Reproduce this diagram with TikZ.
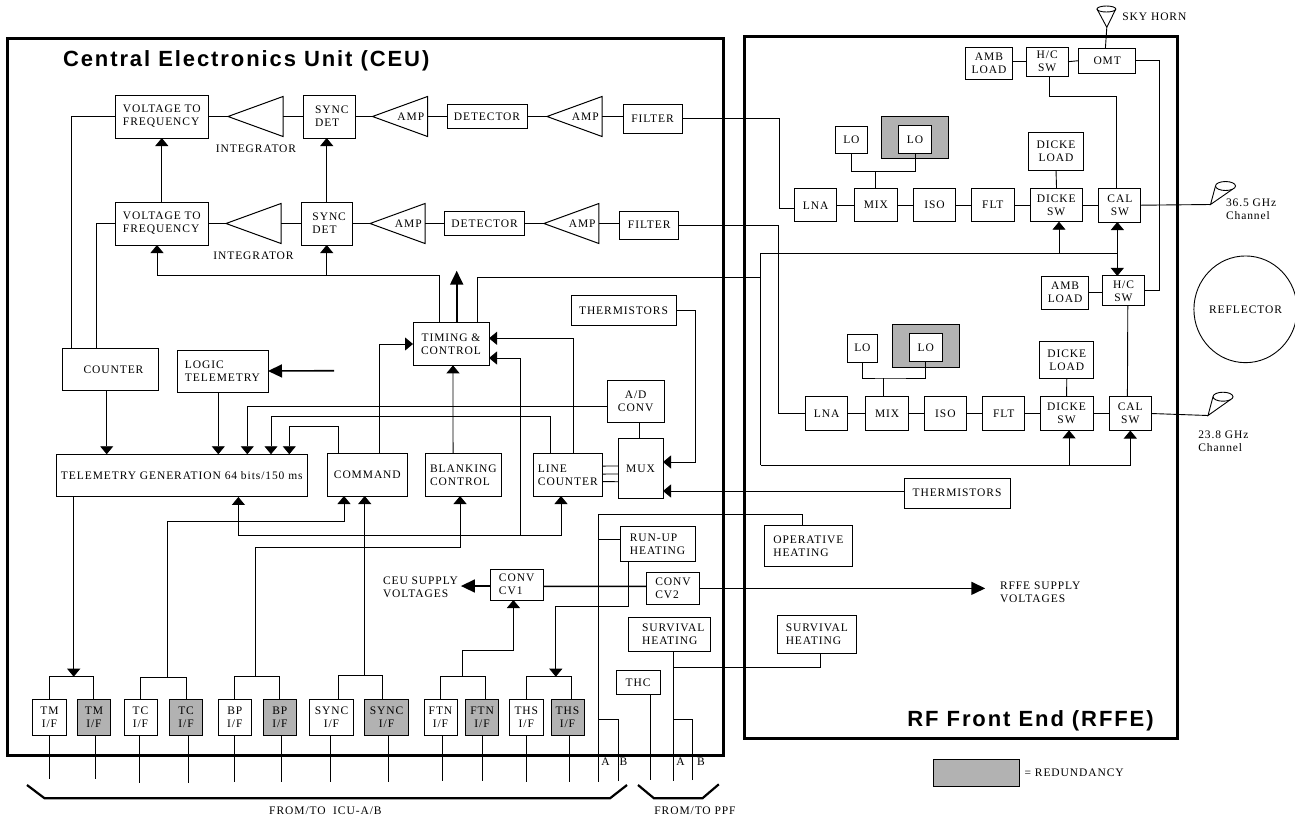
\documentclass[tikz,border=0pt]{standalone}
\usepackage{xcolor}
\usepackage{fontspec}
\setmainfont[LetterSpace=8]{Liberation Serif}
\newfontfamily\headfont[LetterSpace=8.7]{Liberation Sans}
\usepackage{tikz}
\usetikzlibrary{shapes.geometric,arrows.meta,positioning,calc}
\definecolor{redungray}{RGB}{178,178,178}
\tikzset{
  wh/.style 2 args={minimum width=#1pt, minimum height=#2pt},
  block/.style={rectangle, draw=black, line width=1pt, inner sep=0pt, outer sep=0pt, align=center, fill=white, font=\fontsize{11.5}{13}\selectfont},
  lblock/.style={block, align=left},
  redun/.style={block, fill=redungray},
  unitframe/.style={rectangle, draw=black, line width=3pt, inner sep=0pt, outer sep=0pt},
  ampl/.style={isosceles triangle, isosceles triangle stretches, shape border rotate=180, draw=black, line width=1pt, inner sep=0pt, outer sep=0pt, minimum width=40pt, minimum height=55pt, font=\fontsize{11.5}{13}\selectfont},
  hornmouth/.style={ellipse, draw=black, line width=0.9pt, inner sep=0pt, outer sep=0pt},
  lbl/.style={inner sep=0pt, outer sep=0pt, align=left, font=\fontsize{11.5}{13}\selectfont},
  head/.style={inner sep=0pt, outer sep=0pt, anchor=west, font=\headfont\bfseries\fontsize{22}{24}\selectfont},
  link/.style={draw=black, line width=0.9pt},
  arr/.style={link, -{Triangle[length=8pt,width=13pt]}},
  fatarr/.style={draw=black, line width=1.6pt, -{Triangle[length=14pt,width=13pt]}},
  brace/.style={draw=black, line width=2.2pt}
}

\begin{document}
\begin{tikzpicture}[x=1pt,y=-1pt]
\useasboundingbox (0,0) rectangle (1295,820);

% the two units
\node[unitframe, wh={716}{717}, anchor=north west] (ceu) at (7,38) {};
\node[unitframe, wh={433}{702}, anchor=north west] (rffe) at (744,36) {};
\node[head] (ceutitle) at (63,61) {Central Electronics Unit (CEU)};
\node[head] (rffetitle) at (907.4,721) {RF Front End (RFFE)};

% upper channel in the CEU
\node[lblock, wh={93.6}{43}] (vf1) at (161.8,116.5) {VOLTAGE TO\\FREQUENCY};
\node[ampl, right=19.4pt of vf1] (int1) {};
\node[lblock, wh={51.5}{43}, right=94.9pt of vf1] (sync1) {\hspace*{5pt}SYNC\\\hspace*{5pt}DET};
\node[ampl, right=17.5pt of sync1] (amp1) {\hspace*{5pt}AMP};
\node[block, wh={80}{24}, right=19.5pt of amp1] (det1) {DETECTOR};
\node[ampl, right=20pt of det1] (amp2) {\hspace*{5pt}AMP};
\node[block, wh={59}{28.3}, right=21pt of amp2, yshift=-2.4pt] (filter1) {FILTER};
\node[lbl] (intlabel1) at (256,149) {INTEGRATOR};

% lower channel in the CEU
\node[lblock, wh={93.6}{43}, below=64pt of vf1] (vf2) {VOLTAGE TO\\FREQUENCY};
\node[ampl, right=17.4pt of vf2] (int2) {};
\node[lblock, wh={51.4}{43}, right=92.4pt of vf2] (sync2) {\hspace*{5pt}SYNC\\\hspace*{5pt}DET};
\node[ampl, right=17.6pt of sync2] (amp3) {\hspace*{5pt}AMP};
\node[block, wh={80}{24}, right=19.6pt of amp3] (det2) {DETECTOR};
\node[ampl, right=19.3pt of det2] (amp4) {\hspace*{5pt}AMP};
\node[block, wh={59.4}{28}, right=20.6pt of amp4, yshift=-1.5pt] (filter2) {FILTER};
\node[lbl] (intlabel2) at (253.5,256) {INTEGRATOR};

% control and telemetry
\node[block, wh={96}{42.7}] (counter) at (110,369.4) {\hspace*{7pt}COUNTER};
\node[lblock, wh={91}{42}] (logic) at (222.5,371) {LOGIC\\TELEMETRY};
\node[block, wh={76}{42.6}] (timing) at (451,344) {TIMING \&\\CONTROL};
\node[block, wh={105}{29.6}] (therm1) at (623.5,310.5) {THERMISTORS};
\node[block, wh={57.3}{42}] (adconv) at (635.65,401.3) {A/D\\CONV};
\node[block, wh={45}{59.6}] (mux) at (640.5,468.5) {MUX};
\node[block, wh={251.6}{42.7}] (tmgen) at (181.8,475.6) {TELEMETRY GENERATION 64 bits/150 ms};
\node[block, wh={79.3}{42.3}] (command) at (367.35,474.85) {COMMAND};
\node[lblock, wh={75.9}{42.3}] (blank) at (463.35,474.85) {BLANKING\\CONTROL};
\node[lblock, wh={68.7}{42.3}] (lcount) at (567.85,474.85) {LINE\\COUNTER};
\node[block, wh={106}{29.7}] (therm2) at (957,493.2) {THERMISTORS};

% power and heating
\node[lbl, anchor=west] (ceusupply) at (383,587.5) {CEU SUPPLY\\VOLTAGES};
\node[lblock, wh={53.3}{30.7}] (cv1) at (516.65,584.65) {CONV\\CV1};
\node[lblock, wh={52.5}{31.3}] (cv2) at (673,588.35) {CONV\\CV2};
\node[lbl, anchor=west] (rffesupply) at (1000,592) {RFFE SUPPLY\\VOLTAGES};
\node[lblock, wh={75}{34.3}] (runup) at (657.5,543.85) {RUN-UP\\HEATING};
\node[lblock, wh={88.6}{40.6}] (operative) at (808.3,546) {OPERATIVE\\HEATING};
\node[lblock, wh={81.6}{34}] (surv1) at (669.2,634.7) {\hspace*{8pt}SURVIVAL\\\hspace*{8pt}HEATING};
\node[lblock, wh={79.7}{37.6}] (surv2) at (816.85,634.5) {SURVIVAL\\HEATING};
\node[block, wh={44}{24}] (thc) at (638,682.7) {THC};

% interface boxes
\node[block, wh={33.9}{36}] (tma) at (49.5,717) {TM\\I/F};
\node[redun, wh={33.7}{36}] (tmb) at (93.9,717) {TM\\I/F};
\node[block, wh={33}{36}] (tca) at (140.5,717.7) {TC\\I/F};
\node[redun, wh={33}{36}] (tcb) at (186.1,717.7) {TC\\I/F};
\node[block, wh={33}{36}] (bpa) at (234.8,717.7) {BP\\I/F};
\node[redun, wh={33}{36}] (bpb) at (279.9,717.7) {BP\\I/F};
\node[block, wh={44.2}{36}] (synca) at (331.5,717) {SYNC\\I/F};
\node[redun, wh={44.7}{36}] (syncb) at (386.6,717) {SYNC\\I/F};
\node[block, wh={33}{36}] (ftna) at (440.5,717.7) {FTN\\I/F};
\node[redun, wh={33}{36}] (ftnb) at (482.1,717.7) {FTN\\I/F};
\node[block, wh={33.9}{36}] (thsa) at (526.3,717.7) {THS\\I/F};
\node[redun, wh={33}{36}] (thsb) at (567.5,717) {THS\\I/F};

% 36.5 GHz branch
\node[block, wh={47.1}{32.3}] (amb1) at (989,63.2) {AMB\\LOAD};
\node[block, wh={41.6}{29.3}] (hcs1) at (1047.2,61.7) {H/C\\SW};
\node[block, wh={57.2}{25.3}] (omt) at (1107.2,60.7) {OMT};
\node[block, wh={31.2}{27.4}] (lo1) at (851.4,140) {LO};
\node[redun, wh={67.1}{42}] (logray1) at (915,137.7) {};
\node[block, wh={33.3}{27.6}] (lo2) at (915.1,139.5) {LO};
\node[block, wh={42.4}{33}] (lna1) at (815.7,205.2) {LNA};
\node[block, wh={43.1}{33}, right=17.4pt of lna1] (mix1) {MIX};
\node[block, wh={42.4}{33}, right=15.9pt of mix1] (iso1) {ISO};
\node[block, wh={42.3}{33}, right=16pt of iso1] (flt1) {FLT};
\node[block, wh={52.5}{33}, right=16pt of flt1] (dsw1) {DICKE\\SW};
\node[block, wh={42.1}{33.6}, right=16.3pt of dsw1] (csw1) {CAL\\SW};
\node[block, wh={54.7}{37.3}] (dload1) at (1056,151.6) {DICKE\\LOAD};

% 23.8 GHz branch
\node[block, wh={47.1}{33}] (amb2) at (1065.1,292.5) {AMB\\LOAD};
\node[block, wh={42}{29.7}] (hcs2) at (1123.5,290.8) {H/C\\SW};
\node[block, wh={30.8}{27.7}] (lo3) at (862.4,348.2) {LO};
\node[redun, wh={67}{42.3}] (logray2) at (926.2,345.9) {};
\node[block, wh={33}{28}] (lo4) at (925.8,347.7) {LO};
\node[block, wh={42.4}{33.6}] (lna2) at (826.6,413.5) {LNA};
\node[block, wh={42.4}{33.6}, right=18.1pt of lna2] (mix2) {MIX};
\node[block, wh={42.4}{33.6}, right=15.9pt of mix2] (iso2) {ISO};
\node[block, wh={42.4}{33.6}, right=15.9pt of iso2] (flt2) {FLT};
\node[block, wh={52.9}{33.6}, right=15.2pt of flt2] (dsw2) {DICKE\\SW};
\node[block, wh={42}{34}, right=16.3pt of dsw2] (csw2) {CAL\\SW};
\node[block, wh={54}{36.6}] (dload2) at (1066.8,360) {DICKE\\LOAD};

% outside the units
\node[hornmouth, wh={18.8}{6}] (skyhorn) at (1106.4,9) {};
\node[lbl, anchor=west] (skylabel) at (1122.4,16.3) {SKY HORN};
\node[hornmouth, wh={20}{9}] (horn36) at (1225.5,186) {};
\node[lbl, anchor=north west] (label36) at (1226,199) {36.5 GHz\\Channel};
\node[hornmouth, wh={20}{9}] (horn23) at (1223,396.7) {};
\node[lbl, anchor=north west] (label23) at (1198.3,431) {23.8 GHz\\Channel};
\node[ellipse, draw=black, line width=0.9pt, wh={96}{106.7}, inner sep=0pt, font=\fontsize{11.5}{13}\selectfont] (reflector) at (1245.5,309.3) {REFLECTOR};
\node[redun, wh={86.3}{26.6}] (legend) at (976.5,773) {};
\node[lbl, right=5pt of legend] (legendtxt) {= REDUNDANCY};
\node[lbl] (icutxt) at (325.4,811) {FROM/TO\ \ ICU-A/B};
\node[lbl] (ppftxt) at (695,811) {FROM/TO PPF};
\node[lbl] (labela1) at (605.6,762) {A};
\node[lbl] (labelb1) at (623.4,762) {B};
\node[lbl] (labela2) at (680.5,762) {A};
\node[lbl] (labelb2) at (701,762) {B};

% helper points
\coordinate (tbus) at (400,275.7);
\coordinate (ctlfeed) at (760.8,277.3);
\coordinate (ctltop) at (760.8,253.3);
\coordinate (ctlbot) at (760.8,465);
\coordinate (cbus) at (520.5,535);
\coordinate (logicin) at (334,370.7);
\coordinate (tmbr) at (73.7,676.7);
\coordinate (tcbr) at (167.4,677.7);
\coordinate (bpbr) at (255.8,676.7);
\coordinate (syncbr) at (364.7,675.7);
\coordinate (ftnbr) at (462.5,676.7);
\coordinate (thsbr) at (555.8,676.7);
\coordinate (pwra) at (598.3,514);
\coordinate (pwraend) at (598.3,781.7);
\coordinate (pwrbend) at (618.4,781);
\coordinate (ppfaend) at (673,781);
\coordinate (ppfbend) at (692.8,780);
\coordinate (skytip) at (1106.8,27.3);
\coordinate (tip36) at (1210.5,204.5);
\coordinate (tip23) at (1208,415.5);

% signal rows
\draw[link] (vf1.east) -- (int1.west);
\draw[link] (int1.east) -- (sync1.west);
\draw[link] (sync1.east) -- (amp1.west);
\draw[link] (amp1.east) -- (det1.west);
\draw[link] (det1.east) -- (amp2.west);
\draw[link] (amp2.east) -- ([yshift=2.4pt]filter1.west);
\draw[link] (vf2.east) -- (int2.west);
\draw[link] (int2.east) -- (sync2.west);
\draw[link] (sync2.east) -- (amp3.west);
\draw[link] (amp3.east) -- (det2.west);
\draw[link] (det2.east) -- (amp4.west);
\draw[link] (amp4.east) -- ([yshift=1.5pt]filter2.west);
\draw[arr] (vf2.north) -- (vf1.south);
\draw[arr] (sync2.north) -- (sync2.north |- sync1.south);
\draw[link] (vf1.west) -| ([xshift=-38.6pt]counter.north);
\draw[link] (vf2.west) -| ([xshift=-13.6pt]counter.north);
\draw[link] (filter1.east) -- ++(97.5,0) |- ([yshift=-3pt]lna1.west);
\draw[link] (filter2.east) -- ++(99.3,0) |- (lna2.west);

% timing lines
\draw[arr] ([xshift=-12pt]timing.north) |- (tbus) -| ([xshift=-4.8pt]vf2.south);
\draw[arr] (tbus) -| (sync2.south);
\draw[fatarr, line width=2pt] ([xshift=5.7pt]timing.north) -- ++(0,-52);
\draw[link] ([xshift=26pt]timing.north) |- (ctlfeed);
\draw[link] (ctltop) -- (ctlbot);
\draw[arr] (ctltop) -| ([xshift=-2.5pt]csw1.south);
\draw[arr] (ctltop) -| ([xshift=2.75pt]dsw1.south);
\draw[arr] (ctltop) -| ([xshift=-6.2pt]hcs2.north);
\draw[arr] (ctlbot) -| (csw2.south);
\draw[arr] (ctlbot) -| ([xshift=2.5pt]dsw2.south);

% into telemetry generation
\draw[arr] ([xshift=-3.3pt]counter.south) -- ([xshift=-75.1pt]tmgen.north);
\draw[arr] ([xshift=-4.2pt]logic.south) -- ([xshift=36.5pt]tmgen.north);
\draw[arr] ([yshift=-5.4pt]adconv.west) -| ([xshift=65.5pt]tmgen.north);
\draw[arr] ([xshift=-17.45pt]lcount.north) -- ++(0,-37) -| ([xshift=89.2pt]tmgen.north);
\draw[arr] ([xshift=-28.55pt]command.north) -- ++(0,-27.4) -| ([xshift=107.5pt]tmgen.north);
\draw[fatarr] (logicin) -- (logic.east);

% into timing
\draw[arr] ([xshift=12.15pt]command.north) |- (timing.west);
\draw[arr] ([xshift=-10.3pt]blank.north) -- ([xshift=2pt]timing.south);
\draw[arr] ([xshift=5.9pt]lcount.north) |- ([yshift=5.7pt]timing.east);
\draw[arr] (cbus) |- ([yshift=-14pt]timing.east);
\draw[arr] (cbus) -| ([xshift=-6.85pt]lcount.south);
\draw[arr] (cbus) -| ([xshift=56.6pt]tmgen.south);

% mux
\draw[link] ([yshift=8.8pt]lcount.east) -- ([yshift=2.5pt]mux.west);
\draw[link] ([yshift=0.8pt]lcount.east) -- ([yshift=-5.5pt]mux.west);
\draw[link] ([yshift=-6.8pt]lcount.east) -- ([yshift=-13.2pt]mux.west);
\draw[link] ([xshift=3.35pt]adconv.south) -- ([xshift=-1.5pt]mux.north);
\draw[arr] (therm1.east) -- ++(19,0) |- ([yshift=6.5pt]mux.east);
\draw[arr] ([yshift=2.2pt]therm2.west) -- ([yshift=-22.5pt]mux.east);

% interface brackets
\draw[link] (tma.north) |- (tmbr) -| (tmb.north);
\draw[link] (tca.north) |- (tcbr) -| (tcb.north);
\draw[link] (bpa.north) |- (bpbr) -| (bpb.north);
\draw[link] ([xshift=6.5pt]synca.north) |- (syncbr) -| ([xshift=-4pt]syncb.north);
\draw[link] (ftna.north) |- (ftnbr) -| ([xshift=3.2pt]ftnb.north);
\draw[link] (thsa.north) |- (thsbr) -| ([xshift=3.5pt]thsb.north);
\draw[arr] ([xshift=-108.1pt]tmgen.south) -- (tmbr);
\draw[arr] (tcbr) -- ++(0,-156.7) -| ([xshift=-23.35pt]command.south);
\draw[arr] (bpbr) -- ++(0,-129.4) -| ([xshift=-3.3pt]blank.south);
\draw[arr] (syncbr) -- (syncbr |- command.south);
\draw[arr] (ftnbr) -- ++(0,-26.4) -| ([xshift=-3.25pt]cv1.south);
\draw[arr] ([xshift=-28.9pt]runup.south) -- ++(0,45.3) -| (thsbr);

% lines leaving the interface boxes
\draw[link] (tma.south) -- ++(0,44);
\draw[link] ([xshift=1.6pt]tmb.south) -- ++(0,44);
\draw[link] ([xshift=-1.2pt]tca.south) -- ++(0,47);
\draw[link] ([xshift=1.9pt]tcb.south) -- ++(0,47);
\draw[link] (bpa.south) -- ++(0,46);
\draw[link] ([xshift=1.8pt]bpb.south) -- ++(0,46);
\draw[link] ([xshift=-1.1pt]synca.south) -- ++(0,46.7);
\draw[link] ([xshift=1.8pt]syncb.south) -- ++(0,46.7);
\draw[link] ([xshift=1.9pt]ftna.south) -- ++(0,45);
\draw[link] (ftnb.south) -- ++(0,45);
\draw[link] (thsa.south) -- ++(0,46);
\draw[link] ([xshift=2.1pt]thsb.south) -- ++(0,47);

% power and heating lines
\draw[fatarr] ([yshift=-1.35pt]cv1.west) -- ([xshift=3pt,yshift=1.5pt]ceusupply.east);
\draw[link, line width=1.4pt] ([yshift=-1.65pt]cv1.east) -- ([yshift=2pt]cv2.west);
\draw[fatarr] (cv2.east) -- ++(286,0);
\draw[link] (pwraend) -- (pwra) -| ([xshift=-5.9pt]operative.north);
\draw[link] ([yshift=4.5pt]runup.west) -- ++(-21.7,0);
\draw[link] (pwrbend) -- ++(0,-61.3) -- ++(-20.1,0);
\draw[link] ([xshift=3.8pt]surv1.south) -- (ppfaend);
\draw[link] ([xshift=3.8pt]surv1.south) -- ++(0,15.6) -| ([xshift=3.75pt]surv2.south);
\draw[link] (ppfbend) -- ++(0,-60.3) -- ++(-19.8,0);
\draw[link] ([xshift=12.3pt]thc.south) -- ++(0,85.3);

% front end, upper
\draw[link] (amb1.east |- hcs1.west) -- (hcs1.west);
\draw[link] (hcs1.east) -- (omt.west);
\draw[link] ([xshift=-1.8pt]omt.north) -- (skytip);
\draw[link] (skyhorn.west) -- (skytip) -- (skyhorn.east);
\draw[link] ([xshift=2.4pt]hcs1.south) -- ++(0,20.4) -| ([xshift=-3.2pt]csw1.north);
\draw[link] (omt.east) -- ++(23.2,0) |- (hcs2.east);
\draw[link] (lo1.south) |- ([yshift=16.9pt]mix1.north) -| (lo2.south);
\draw[link] ([yshift=-0.1pt]mix1.north) -- ++(0,-17);
\draw[link] (lna1.east) -- (mix1.west);
\draw[link] (mix1.east) -- (iso1.west);
\draw[link] (iso1.east) -- (flt1.west);
\draw[link] (flt1.east) -- (dsw1.west);
\draw[link] (dsw1.east) -- (csw1.west);
\draw[link] ([xshift=0.3pt]dsw1.north) -- (dload1.south);
\draw[link] (csw1.east) -- (tip36);
\draw[link] (horn36.west) -- (tip36) -- (horn36.south east);

% front end, lower
\draw[link] (amb2.east) -- (amb2.east -| hcs2.west);
\draw[link] ([xshift=4.3pt]hcs2.south) -- ([xshift=-2.9pt]csw2.north);
\draw[link] (lo3.south) |- ([yshift=18.7pt]mix2.north) -| (lo4.south);
\draw[link] ([xshift=-3.8pt]mix2.north) -- ++(0,-18.7);
\draw[link] (lna2.east) -- (mix2.west);
\draw[link] (mix2.east) -- (iso2.west);
\draw[link] (iso2.east) -- (flt2.west);
\draw[link] (flt2.east) -- (dsw2.west);
\draw[link] (dsw2.east) -- (csw2.west);
\draw[link] (dsw2.north) -- (dload2.south);
\draw[link] (csw2.east) -- (tip23);
\draw[link] (horn23.west) -- (tip23) -- (horn23.south east);

% braces
\draw[brace] (27,785) -- (44.6,798.3) -- (610,798.3) -- (627,785);
\draw[brace] (638,785) -- (654,798.3) -- (702.4,798.3) -- (718.8,784.3);

\end{tikzpicture}
\end{document}
